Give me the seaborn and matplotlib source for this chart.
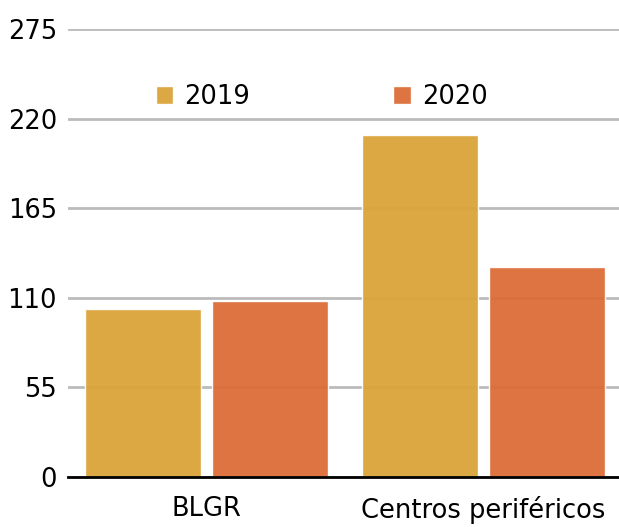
import matplotlib
matplotlib.use("Agg")
import matplotlib.pyplot as plt
import pandas as pd
import seaborn as sns

categorias = ["BLGR", "Centros periféricos"]
anos = ["2019", "2020"]
valores_2019 = [103, 210]
valores_2020 = [108, 129]
cores = ["#DBA43A", "#DC6C38"]

df = pd.DataFrame({
    "categoria": categorias * 2,
    "ano": [anos[0]] * 2 + [anos[1]] * 2,
    "valor": valores_2019 + valores_2020,
})

sns.set_style("white")
plt.rcParams["font.family"] = ["DejaVu Sans"]
plt.rcParams["text.color"] = "black"
plt.rcParams["xtick.color"] = "black"
plt.rcParams["ytick.color"] = "black"

fig = plt.figure(figsize=(6.19, 5.27), dpi=100)
ax = fig.add_axes([68 / 619, 1 - 477 / 527, 1 - 68 / 619, 448 / 527])

sns.barplot(data=df, x="categoria", y="valor", hue="ano", palette=cores,
            width=0.917, gap=0.085, alpha=0.95, saturation=1, ax=ax, zorder=3)

ax.set_ylim(0, 275)
ax.set_xlim(-0.5, 1.49)
ax.set_yticks([0, 55, 110, 165, 220, 275])
ax.yaxis.grid(True, color="#bbbbbb", linewidth=2, zorder=0)
ax.set_axisbelow(True)
for s in ["left", "right", "top"]:
    ax.spines[s].set_visible(False)
ax.spines["bottom"].set_color("black")
ax.spines["bottom"].set_linewidth(2)
ax.spines["bottom"].set_zorder(5)
ax.tick_params(axis="both", length=0, labelsize=18.5, colors="black")
ax.tick_params(axis="y", pad=8)
ax.tick_params(axis="x", pad=14)
ax.set_xlabel("")
ax.set_ylabel("")

ax.legend(loc="center", bbox_to_anchor=(0.46, 0.848), ncol=2, frameon=False,
          fontsize=18.5, handlelength=0.7, handleheight=0.7, handletextpad=0.4,
          columnspacing=5.6)

fig.savefig("out.png", dpi=100)
